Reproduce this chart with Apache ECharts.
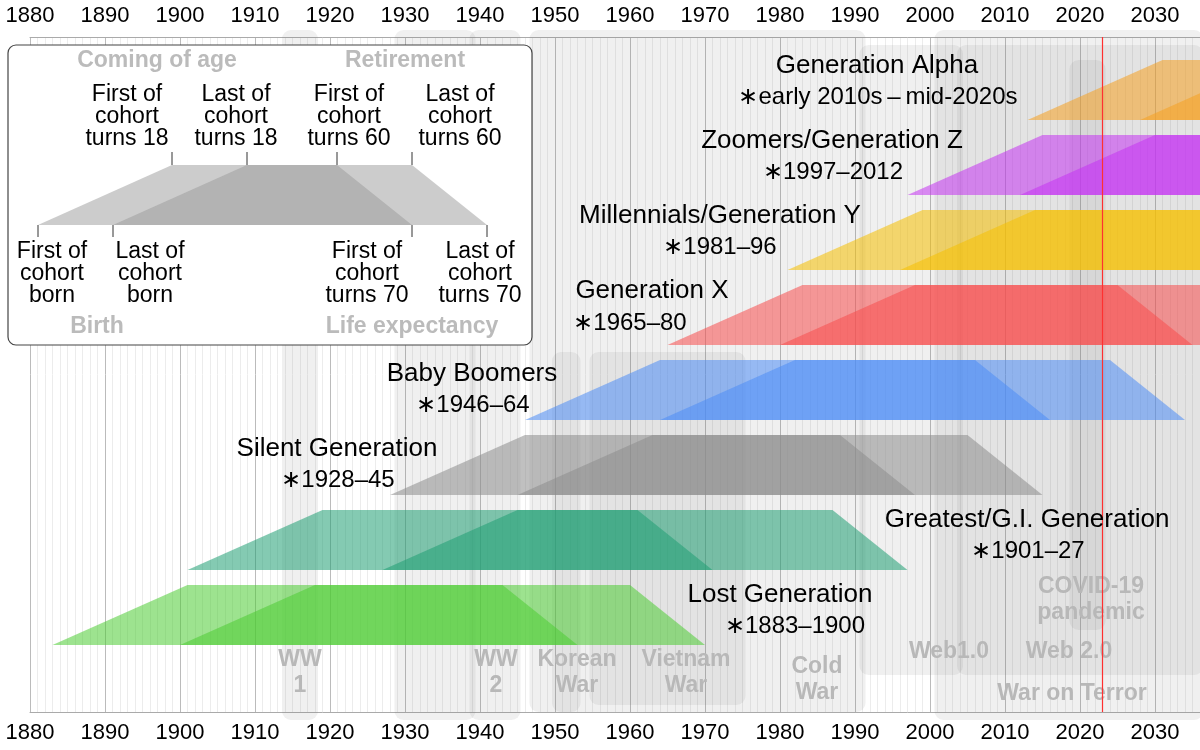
<!DOCTYPE html>
<html><head><meta charset="utf-8">
<script src="https://cdn.jsdelivr.net/npm/echarts@6/dist/echarts.min.js"></script>
<style>html,body{margin:0;padding:0;background:#fff}#c{width:1200px;height:750px}</style>
</head><body><div id="c"></div>
<script>
// generations: first and last birth year of the cohort
const genNames = ['Lost Generation', 'Greatest/G.I. Generation', 'Silent Generation', 'Baby Boomers',
  'Generation X', 'Millennials/Generation Y', 'Zoomers/Generation Z', 'Generation Alpha'];
const genSpans = ['\u22171883\u20131900', '\u22171901\u201327', '\u22171928\u201345', '\u22171946\u201364',
  '\u22171965\u201380', '\u22171981\u201396', '\u22171997\u20132012', '\u2217early 2010s\u2009\u2013\u2009mid-2020s'];
const genFirst = [1883, 1901, 1928, 1946, 1965, 1981, 1997, 2013];
const genLast = [1900, 1927, 1945, 1964, 1980, 1996, 2012, 2028];
const ageComing = 18, ageRetire = 60, ageLife = 70;

// historic events
const eventNames = ['WW\n1', '', 'WW\n2', 'Cold\nWar', 'Korean\nWar', 'Vietnam\nWar', 'Web1.0', 'War on Terror', 'Web 2.0', 'COVID-19\npandemic'];
const eventStart = [1914, 1929, 1939, 1947, 1950, 1955, 1991, 2001, 2004, 2019];
const eventEnd = [1918, 1939, 1945, 1991, 1953, 1975, 2004, 2036, 2036, 2023];
const nowYear = 2023;

// layout / style (pixel rows of the chart)
const genRow = [[585, 645], [510, 570], [435, 495], [360, 420], [285, 345], [210, 270], [135, 195], [60, 120]];
const genColors = ['#4ccc33', '#1f9e73', '#8c8c8c', '#4d8cf5', '#f84d4d', '#f5c000', '#c533f2', '#f5a020'];
const genLabelX = [[780, 795], [1027, 1028], [337, 338], [472, 473], [652, 630], [720, 720], [832, 833], [877, 878]];
const genLabelY = [[595, 626], [520, 551], [449, 480], [374, 405], [291, 323], [216, 247], [141, 172], [66, 97]];
const eventRows = [[30, 720], [30, 720], [30, 720], [30, 712], [352, 712], [352, 705], [45, 675], [30, 720], [45, 675], [60, 630]];
const eventLabelPos = [[300, 673], [0, 0], [496, 673], [817, 680], [577, 673], [686, 673], [949, 652], [1072, 694], [1069, 652], [1091, 600]];

const FONT = 'Liberation Sans';
const chart = echarts.init(document.getElementById('c'));

function eventItem(params, api) {
  const i = params.dataIndex;
  const a = api.coord([eventStart[i], eventRows[i][0]]);
  const b = api.coord([eventEnd[i], eventRows[i][1]]);
  return { type: 'rect', shape: { x: a[0] - 3, y: a[1], width: b[0] - a[0] + 6, height: b[1] - a[1], r: 9 },
    style: { fill: 'rgba(120,120,120,0.11)' } };
}
function genItem(params, api) {
  const i = params.dataIndex;
  const [top, bot] = genRow[i];
  const children = [genFirst[i], genLast[i]].map(y => ({
    type: 'polygon',
    shape: { points: [api.coord([y, bot]), api.coord([y + ageComing, top]), api.coord([y + ageRetire, top]), api.coord([y + ageLife, bot])] },
    style: { fill: genColors[i], opacity: 0.55 }
  }));
  return { type: 'group', children };
}

const textEls = [];
genNames.forEach((n, i) => {
  textEls.push({ type: 'text', x: genLabelX[i][0], y: genLabelY[i][0], style: { text: n, font: '26px ' + FONT, fill: '#000', align: 'center', verticalAlign: 'middle' }, z: 20 });
  textEls.push({ type: 'text', x: genLabelX[i][1], y: genLabelY[i][1], style: { text: genSpans[i], font: '24px ' + FONT, fill: '#000', align: 'center', verticalAlign: 'middle' }, z: 20 });
});
eventNames.forEach((n, i) => {
  if (!n) return;
  textEls.push({ type: 'text', x: eventLabelPos[i][0], y: eventLabelPos[i][1], style: { text: n, font: 'bold 23px ' + FONT, fill: '#b8b8b8', align: 'center', verticalAlign: 'middle', lineHeight: 26 }, z: 5 });
});

// explanatory inset
const inset = [
  { type: 'rect', shape: { x: 8, y: 45, width: 524, height: 300, r: 8 }, style: { fill: '#fff', stroke: '#444', lineWidth: 1.2 }, z: 30 },
  { type: 'polygon', shape: { points: [[38, 225], [172, 165], [337, 165], [412, 225]] }, style: { fill: '#999', opacity: 0.5 }, z: 31 },
  { type: 'polygon', shape: { points: [[113, 225], [247, 165], [412, 165], [487, 225]] }, style: { fill: '#999', opacity: 0.5 }, z: 31 }
];
[172, 247, 337, 412].forEach(x => inset.push({ type: 'line', shape: { x1: x, y1: 152, x2: x, y2: 165 }, style: { stroke: '#333' }, z: 31 }));
[38, 113, 412, 487].forEach(x => inset.push({ type: 'line', shape: { x1: x, y1: 225, x2: x, y2: 237 }, style: { stroke: '#333' }, z: 31 }));
const insetTop = [[127, 'First of\ncohort\nturns 18'], [236, 'Last of\ncohort\nturns 18'], [349, 'First of\ncohort\nturns 60'], [460, 'Last of\ncohort\nturns 60']];
const insetBot = [[52, 'First of\ncohort\nborn'], [150, 'Last of\ncohort\nborn'], [367, 'First of\ncohort\nturns 70'], [480, 'Last of\ncohort\nturns 70']];
insetTop.forEach(([x, t]) => inset.push({ type: 'text', x, y: 117, style: { text: t, font: '23px ' + FONT, fill: '#000', align: 'center', verticalAlign: 'middle', lineHeight: 22 }, z: 32 }));
insetBot.forEach(([x, t]) => inset.push({ type: 'text', x, y: 274, style: { text: t, font: '23px ' + FONT, fill: '#000', align: 'center', verticalAlign: 'middle', lineHeight: 22 }, z: 32 }));
[[157, 61, 'Coming of age'], [405, 61, 'Retirement'], [97, 327, 'Birth'], [412, 327, 'Life expectancy']].forEach(([x, y, t]) =>
  inset.push({ type: 'text', x, y, style: { text: t, font: 'bold 23px ' + FONT, fill: '#bbb', align: 'center', verticalAlign: 'middle' }, z: 32 }));

const xBase = {
  type: 'value', min: 1880, max: 2036, interval: 10,
  axisLine: { show: true, lineStyle: { color: '#aaa' } }, axisTick: { show: false },
  axisLabel: { fontFamily: FONT, fontSize: 22, color: '#000', margin: 10, showMaxLabel: false, formatter: v => String(v) }
};
chart.setOption({
  animation: false,
  textStyle: { fontFamily: FONT },
  grid: { left: 30, right: 0, top: 37, bottom: 38, containLabel: false, outerBoundsMode: 'none' },
  xAxis: [
    Object.assign({}, xBase, { position: 'bottom', splitLine: { show: true, lineStyle: { color: '#bbb' } },
      minorTick: { show: false, splitNumber: 10 }, minorSplitLine: { show: true, lineStyle: { color: '#ececec' } } }),
    Object.assign({}, xBase, { position: 'top', splitLine: { show: false } })
  ],
  yAxis: { type: 'value', min: 37, max: 712, inverse: true, show: false },
  series: [
    { type: 'custom', renderItem: eventItem, data: eventNames.map((n, i) => i), clip: false, z: 1 },
    { type: 'custom', renderItem: genItem, data: genNames.map((n, i) => i), z: 3 },
    { type: 'line', data: [], markLine: { silent: true, symbol: 'none', label: { show: false },
      lineStyle: { color: '#ff3030', type: 'solid', width: 1.2 }, data: [{ xAxis: nowYear }] }, z: 10 }
  ],
  graphic: textEls.concat(inset)
});
</script></body></html>
